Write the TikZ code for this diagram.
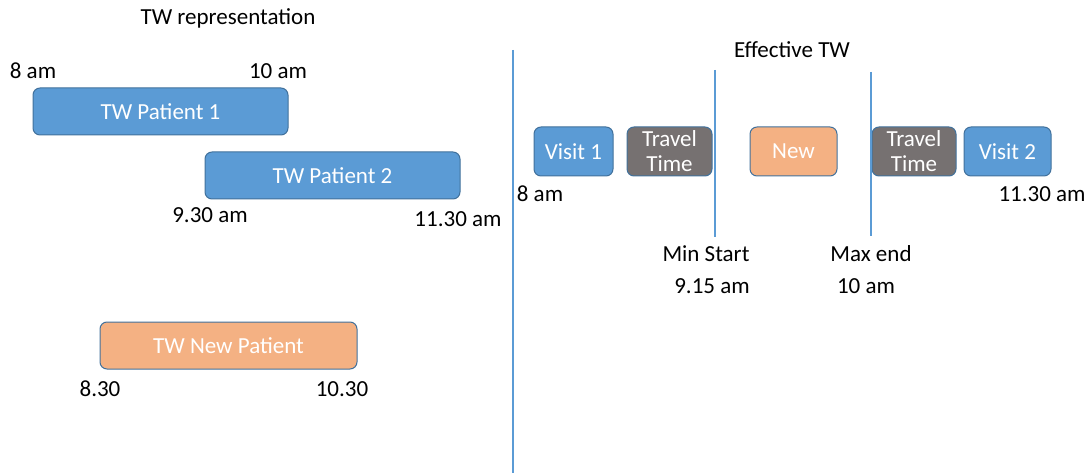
\documentclass[tikz,border=0pt]{standalone}
\usepackage{fontspec}
\setmainfont{Carlito}
\definecolor{boxblue}{HTML}{5B9BD5}
\definecolor{boxedge}{HTML}{41719C}
\definecolor{boxorange}{HTML}{F4B183}
\definecolor{boxgray}{HTML}{767171}
\definecolor{lineblue}{HTML}{5B9BD5}
\begin{document}
\begin{tikzpicture}[x=1pt,y=-1pt,
  lbl/.style={font=\fontsize{23}{25}\selectfont, inner sep=0pt, text=black},
  bx/.style={draw=boxedge, line width=1pt, rounded corners=7pt, font=\fontsize{23}{25}\selectfont, text=white, align=center, inner sep=0pt},
  bluebox/.style={bx, fill=boxblue},
  orangebox/.style={bx, fill=boxorange},
  graybox/.style={bx, fill=boxgray},
  sep/.style={draw=lineblue, line width=1.3pt}
]
\useasboundingbox (0,0) rectangle (1092,473);

% left part
\node[lbl] (t1) at (228,18) {TW representation};
\node[lbl] (a8) at (33,71) {8 am};
\node[lbl] (a10) at (278,71) {10 am};
\node[bluebox, minimum width=255pt, minimum height=47pt] (p1) at (160.5,111.5) {TW Patient 1};
\node[bluebox, minimum width=255pt, minimum height=47pt] (p2) at (332.5,175.5) {TW Patient 2};
\node[lbl] (a930) at (210,215) {9.30 am};
\node[lbl] (a1130) at (458,219) {11.30 am};
\node[orangebox, minimum width=257pt, minimum height=47pt] (np) at (228.5,345.5) {TW New Patient};
\node[lbl] (a830) at (100,389) {8.30};
\node[lbl] (a1030) at (342,389) {10.30};

% separator
\coordinate (s1) at (513,50);
\coordinate (s2) at (513,473);
\draw[sep] (s1) -- (s2);

% right part
\node[lbl] (t2) at (792,50) {Effective TW};
\node[bluebox, minimum width=79pt, minimum height=49pt] (v1) at (573.5,151.5) {Visit 1};
\node[graybox, minimum width=85pt, minimum height=49pt] (tt1) at (669.5,151.5) {Travel\\Time};
\node[orangebox, minimum width=87pt, minimum height=49pt] (new) at (793.5,151.5) {New};
\node[graybox, minimum width=84pt, minimum height=49pt] (tt2) at (914,151.5) {Travel\\Time};
\node[bluebox, minimum width=87pt, minimum height=49pt] (v2) at (1007.5,151.5) {Visit 2};

\coordinate (m1) at (715,70);
\coordinate (m2) at (715,237);
\draw[sep] (m1) -- (m2);
\coordinate (x1) at (871,72);
\coordinate (x2) at (871,236);
\draw[sep] (x1) -- (x2);

\node[lbl] (r8) at (540,194) {8 am};
\node[lbl] (r1130) at (1042,194) {11.30 am};
\node[lbl] (ms) at (706,254) {Min Start};
\node[lbl] (ms2) at (712,286) {9.15 am};
\node[lbl] (me) at (871,254) {Max end};
\node[lbl] (me2) at (866,286) {10 am};
\end{tikzpicture}
\end{document}
